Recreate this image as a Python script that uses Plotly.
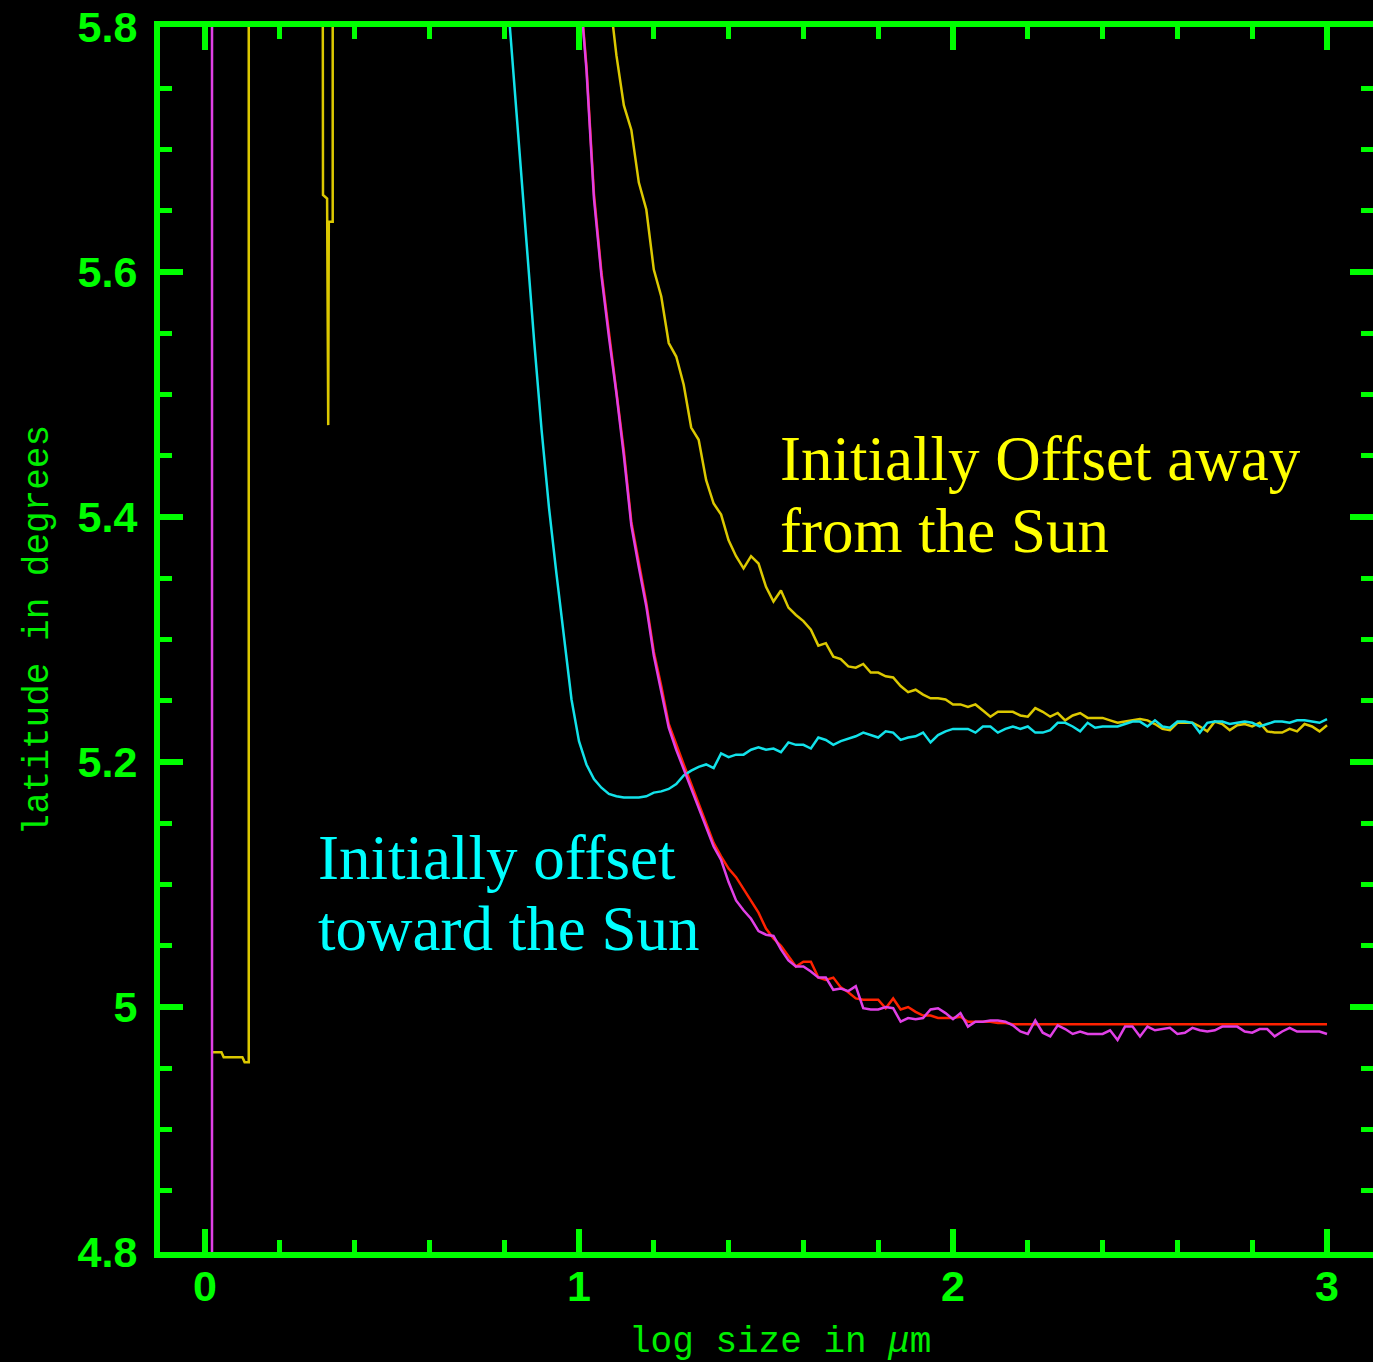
import plotly.graph_objects as go

# Latitude (degrees) versus log10 of grain size (micrometres), sampled every 0.02 in log size.
STEP = 0.02


def log_grid(start, n):
    return [round(start + i * STEP, 2) for i in range(n)]


# --- cyan run: grains initially offset toward the Sun (samples from log size 0.80) ---
toward_start = 0.80
lat_toward = [
    5.860, 5.780, 5.700, 5.622, 5.544, 5.471, 5.407, 5.353, 5.300, 5.251,
    5.217, 5.198, 5.186, 5.179, 5.174, 5.172, 5.171, 5.171, 5.171, 5.172,
    5.175, 5.176, 5.178, 5.182, 5.189, 5.193, 5.196, 5.198, 5.195, 5.207,
    5.204, 5.206, 5.206, 5.210, 5.212, 5.210, 5.211, 5.208, 5.216, 5.214,
    5.214, 5.211, 5.220, 5.218, 5.214, 5.217, 5.219, 5.221, 5.224, 5.222,
    5.220, 5.225, 5.224, 5.218, 5.220, 5.221, 5.224, 5.216, 5.222, 5.225,
    5.227, 5.227, 5.227, 5.224, 5.229, 5.229, 5.224, 5.227, 5.229, 5.227,
    5.229, 5.224, 5.224, 5.226, 5.232, 5.232, 5.229, 5.225, 5.232, 5.228,
    5.229, 5.229, 5.229, 5.231, 5.233, 5.233, 5.229, 5.234, 5.229, 5.228,
    5.233, 5.233, 5.232, 5.224, 5.232, 5.233, 5.233, 5.231, 5.232, 5.233,
    5.232, 5.229, 5.231, 5.233, 5.233, 5.232, 5.234, 5.234, 5.233, 5.232,
    5.235,
]

# --- yellow run: grains initially offset away from the Sun ---
away_small_x = [0.019, 0.044, 0.050, 0.100, 0.106, 0.117, 0.118,
                0.3150, 0.3155, 0.3265, 0.3295, 0.3310, 0.3415, 0.3420]
away_small_lat = [4.963, 4.963, 4.959, 4.959, 4.955, 4.955, 60.0,
                  60.0, 5.663, 5.660, 5.475, 5.641, 5.641, 60.0]
away_start = 1.06
lat_away = [
    5.900, 5.830, 5.777, 5.736, 5.716, 5.673, 5.651, 5.602, 5.580, 5.542,
    5.531, 5.508, 5.473, 5.463, 5.430, 5.411, 5.402, 5.381, 5.368, 5.358,
    5.368, 5.362, 5.343, 5.331, 5.340, 5.326, 5.320, 5.315, 5.308, 5.295,
    5.297, 5.286, 5.284, 5.278, 5.277, 5.280, 5.273, 5.273, 5.270, 5.269,
    5.262, 5.257, 5.259, 5.255, 5.252, 5.252, 5.251, 5.247, 5.247, 5.245,
    5.247, 5.242, 5.237, 5.241, 5.241, 5.241, 5.238, 5.237, 5.244, 5.241,
    5.237, 5.240, 5.234, 5.238, 5.240, 5.236, 5.236, 5.236, 5.234, 5.232,
    5.233, 5.234, 5.235, 5.234, 5.231, 5.227, 5.226, 5.232, 5.232, 5.232,
    5.229, 5.225, 5.233, 5.231, 5.226, 5.230, 5.231, 5.229, 5.232, 5.225,
    5.224, 5.224, 5.227, 5.225, 5.231, 5.229, 5.225, 5.230,
]

# --- red run ---
red_start = 1.00
lat_red = [
    5.842, 5.768, 5.664, 5.600, 5.551, 5.504, 5.454, 5.396, 5.362, 5.330,
    5.290, 5.262, 5.231, 5.214, 5.198, 5.182, 5.166, 5.149, 5.134, 5.123,
    5.113, 5.106, 5.096, 5.087, 5.077, 5.064, 5.056, 5.050, 5.041, 5.033,
    5.037, 5.037, 5.024, 5.022, 5.024, 5.016, 5.012, 5.007, 5.006, 5.006,
    5.006, 4.999, 5.007, 4.998, 5.000, 4.996, 4.993, 4.993, 4.991, 4.991,
    4.991, 4.992, 4.988, 4.988, 4.988, 4.988, 4.987, 4.987, 4.986, 4.986,
    4.986, 4.986, 4.986, 4.986, 4.986, 4.986, 4.986, 4.986, 4.986, 4.986,
    4.986, 4.986, 4.986, 4.986, 4.986, 4.986, 4.986, 4.986, 4.986, 4.986,
    4.986, 4.986, 4.986, 4.986, 4.986, 4.986, 4.986, 4.986, 4.986, 4.986,
    4.986, 4.986, 4.986, 4.986, 4.986, 4.986, 4.986, 4.986, 4.986, 4.986,
    4.986,
]

# --- magenta run ---
magenta_small_x = [0.0187, 0.0189]
magenta_small_lat = [-20.0, 60.0]
magenta_start = 1.00
lat_magenta = [
    5.840, 5.765, 5.660, 5.597, 5.547, 5.501, 5.450, 5.393, 5.359, 5.327,
    5.287, 5.258, 5.228, 5.210, 5.194, 5.179, 5.162, 5.146, 5.131, 5.120,
    5.102, 5.087, 5.079, 5.072, 5.062, 5.059, 5.058, 5.047, 5.038, 5.033,
    5.033, 5.029, 5.024, 5.024, 5.014, 5.015, 5.013, 5.017, 4.999, 4.998,
    4.998, 5.000, 4.999, 4.988, 4.991, 4.990, 4.991, 4.998, 4.999, 4.995,
    4.990, 4.995, 4.984, 4.988, 4.988, 4.989, 4.989, 4.988, 4.985, 4.980,
    4.978, 4.989, 4.979, 4.976, 4.985, 4.982, 4.978, 4.980, 4.978, 4.978,
    4.978, 4.981, 4.973, 4.984, 4.984, 4.976, 4.984, 4.981, 4.982, 4.983,
    4.978, 4.979, 4.983, 4.981, 4.980, 4.981, 4.984, 4.984, 4.984, 4.980,
    4.979, 4.982, 4.982, 4.976, 4.980, 4.983, 4.980, 4.980, 4.980, 4.980,
    4.978,
]

x_ticks = [0, 1, 2, 3]
x_ticktext = ["0", "1", "2", "3"]
y_ticks = [4.8, 5.0, 5.2, 5.4, 5.6, 5.8]
y_ticktext = ["4.8", "5", "5.2", "5.4", "5.6", "5.8"]

GREEN = "#00ff00"
YELLOW_LINE = "#dcc800"
CYAN_LINE = "#12e2ea"
RED_LINE = "#ff2200"
MAGENTA_LINE = "#e040e6"
LINE_W = 2.5

fig = go.Figure()

fig.add_trace(go.Scatter(
    x=away_small_x + log_grid(away_start, len(lat_away)),
    y=away_small_lat + lat_away,
    mode="lines", line=dict(color=YELLOW_LINE, width=LINE_W), name="away"))
fig.add_trace(go.Scatter(
    x=log_grid(red_start, len(lat_red)), y=lat_red,
    mode="lines", line=dict(color=RED_LINE, width=LINE_W), name="red"))
fig.add_trace(go.Scatter(
    x=log_grid(toward_start, len(lat_toward)), y=lat_toward,
    mode="lines", line=dict(color=CYAN_LINE, width=LINE_W), name="toward"))
fig.add_trace(go.Scatter(
    x=magenta_small_x + log_grid(magenta_start, len(lat_magenta)),
    y=magenta_small_lat + lat_magenta,
    mode="lines", line=dict(color=MAGENTA_LINE, width=LINE_W), name="magenta"))

tick_font = dict(family="Liberation Sans", size=43, color=GREEN, weight="bold")
axis_common = dict(
    showgrid=False, zeroline=False, showline=True, linecolor=GREEN, linewidth=6,
    mirror="allticks", ticks="inside", ticklen=23, tickwidth=6, tickcolor=GREEN,
    tickfont=tick_font, automargin=False,
)

fig.update_xaxes(
    range=[-0.1203, 3.1230], tickvals=x_ticks, ticktext=x_ticktext,
    ticklabelstandoff=-9,
    minor=dict(dtick=0.2, tick0=0, ticks="inside", ticklen=12, tickwidth=5,
               tickcolor=GREEN, showgrid=False),
    **axis_common)
fig.update_yaxes(
    range=[4.8, 5.8], tickvals=y_ticks, ticktext=y_ticktext,
    ticklabelstandoff=8,
    minor=dict(dtick=0.05, tick0=4.8, ticks="inside", ticklen=12, tickwidth=5,
               tickcolor=GREEN, showgrid=False),
    **axis_common)

title_font = dict(family="Liberation Mono", size=36, color="#00ee00")
label_font = dict(family="Liberation Serif", size=63)

annotations = [
    dict(text="log size in <i>\u03bc</i>m", x=0.5111, y=-0.0735,
         xanchor="center", yanchor="middle", font=title_font),
    dict(text="latitude in degrees", x=-0.1002, y=0.5078, textangle=-90,
         xanchor="center", yanchor="middle", font=title_font),
    dict(text="Initially Offset away", x=0.5095, y=0.6476,
         xanchor="left", yanchor="middle", font=dict(label_font, color="#ffff00")),
    dict(text="from the Sun", x=0.5095, y=0.5888,
         xanchor="left", yanchor="middle", font=dict(label_font, color="#ffff00")),
    dict(text="Initially offset", x=0.1286, y=0.3219,
         xanchor="left", yanchor="middle", font=dict(label_font, color="#00ffff")),
    dict(text="toward the Sun", x=0.1286, y=0.2639,
         xanchor="left", yanchor="middle", font=dict(label_font, color="#00ffff")),
]
for a in annotations:
    a.update(xref="paper", yref="paper", showarrow=False)

fig.update_layout(
    width=1373, height=1362,
    margin=dict(l=160, r=0, t=27, b=110, pad=0),
    paper_bgcolor="black", plot_bgcolor="black",
    showlegend=False, annotations=annotations,
)

fig.write_html("out.html")
